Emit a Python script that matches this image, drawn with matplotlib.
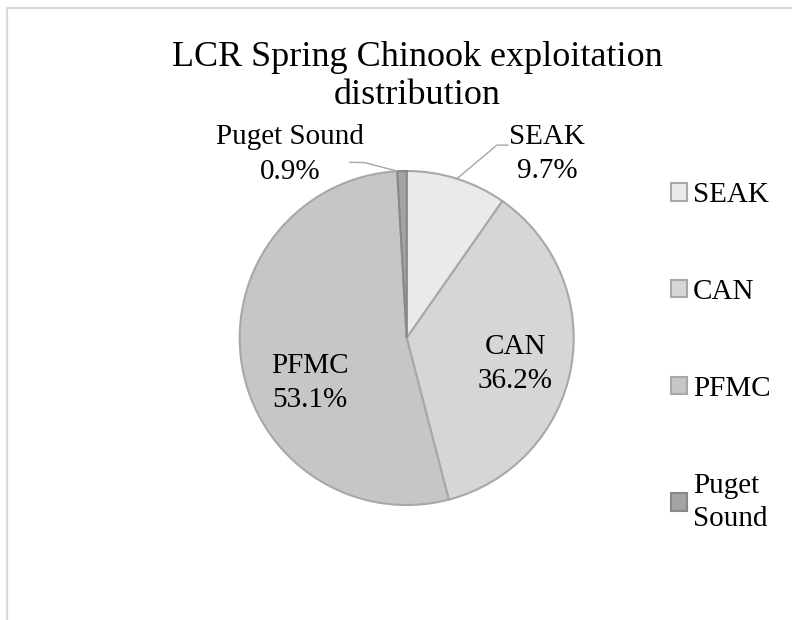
import matplotlib
matplotlib.use("Agg")
import numpy as np
import matplotlib.pyplot as plt
from matplotlib.patches import Rectangle

# ---------------------------------------------------------------------------
# DATA
# ---------------------------------------------------------------------------
regions = ["SEAK", "CAN", "PFMC", "Puget Sound"]
shares = [9.7, 36.2, 53.1, 0.9]          # percent of exploitation
legend_labels = ["SEAK", "CAN", "PFMC", "Puget\nSound"]

# ---------------------------------------------------------------------------
# STYLE
# ---------------------------------------------------------------------------
plt.rcParams["font.family"] = ["Liberation Serif", "DejaVu Serif"]
slice_colors = ["#eaeaea", "#d6d6d6", "#c6c6c6", "#a4a4a4"]
edge_color = "#a8a8a8"
label_size = 21

# label block centres in pie-radius units (layout only)
label_pos = [(0.84, 1.10), (0.649, -0.156), (-0.579, -0.27), (-0.699, 1.098)]
outside = [True, False, False, True]

fig = plt.figure(figsize=(7.92, 6.2), dpi=100)

# chart area border (only top and left visible in the crop)
fig.add_artist(Rectangle((7 / 792, -0.1), 1.2, 1 - 8 / 620 + 0.1,
                         transform=fig.transFigure, fill=False,
                         edgecolor="#d9d9d9", linewidth=1.6))

# pie axes: radius 1 -> ~167 px, centre at (406.7, 338) px
cx, cy, r = 406.7, 338.0, 167.0
ax = fig.add_axes([(cx - r) / 792, (620 - cy - r) / 620, 2 * r / 792, 2 * r / 620])

wedges, _ = ax.pie(shares, colors=slice_colors, startangle=90, counterclock=False,
                   wedgeprops=dict(edgecolor=edge_color, linewidth=1.5))
wedges[3].set_edgecolor("#888888")
ax.set_xlim(-1, 1)
ax.set_ylim(-1, 1)
ax.set_aspect("equal")
ax.axis("off")

# data labels
for w, name, val, (lx, ly), out in zip(wedges, regions, shares, label_pos, outside):
    ax.text(lx, ly, f"{name}\n{val}%", ha="center", va="center",
            fontsize=label_size, linespacing=1.42, clip_on=False)
    if out:
        mid = np.deg2rad((w.theta1 + w.theta2) / 2)
        ex, ey = np.cos(mid), np.sin(mid)
        if lx > 0:
            xs = [ex, 0.54, 0.606]
            ys = [ey, 1.155, 1.155]
        else:
            xs = [ex - 0.03, -0.25, -0.34]
            ys = [ey, 1.05, 1.052]
        ax.plot(xs, ys, color="#a6a6a6", linewidth=1.0, clip_on=False)

# title
fig.text(417 / 792, 1 - 41 / 620, "LCR Spring Chinook exploitation\ndistribution",
         ha="center", va="top", fontsize=26, linespacing=1.2)

# legend
leg = fig.legend(wedges, legend_labels, loc="upper left",
                 bbox_to_anchor=(671 / 792, 1 - 182 / 620),
                 frameon=False, fontsize=label_size,
                 handlelength=0.56, handleheight=0.56, handletextpad=0.2,
                 labelspacing=2.43, borderpad=0, borderaxespad=0)
for t in leg.get_texts():
    t.set_linespacing(1.35)

fig.savefig("out.png", dpi=100)
